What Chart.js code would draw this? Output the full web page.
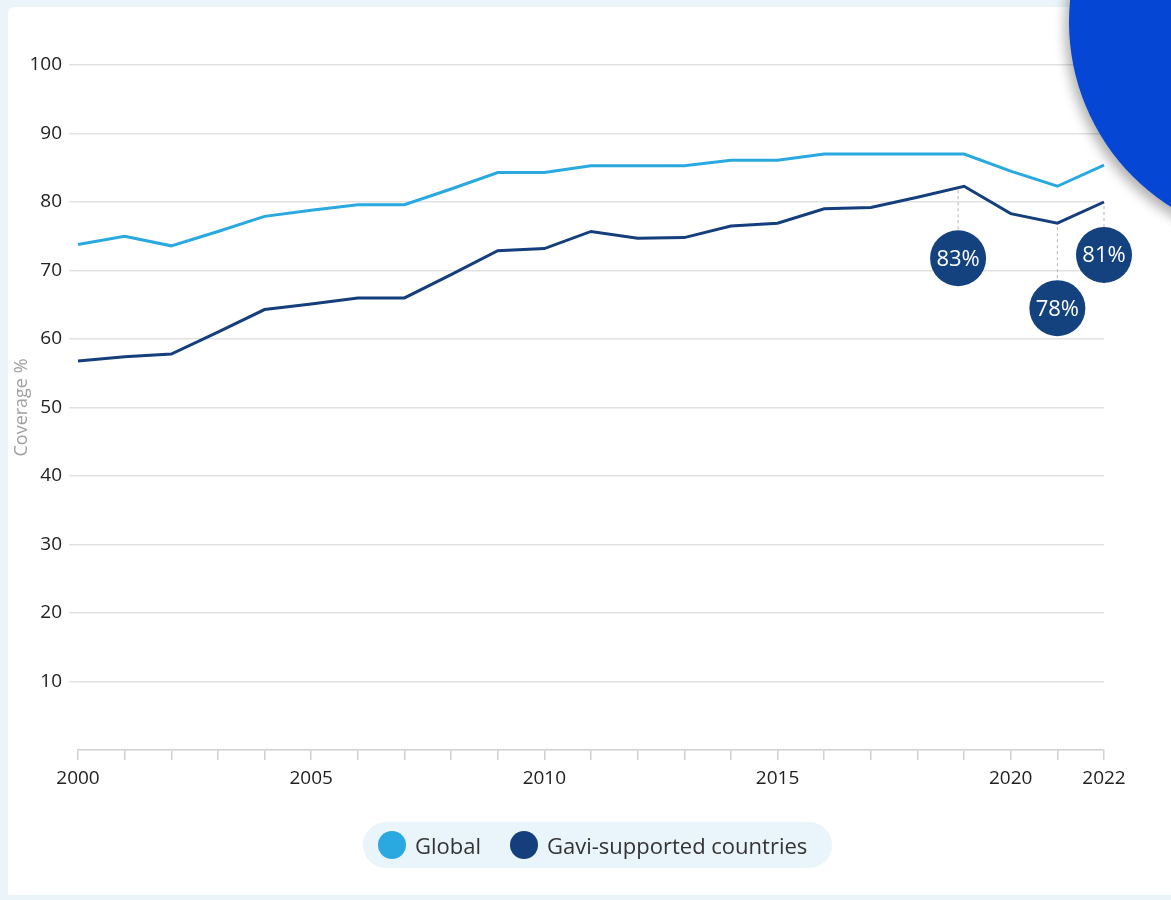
<!DOCTYPE html>
<html><head><meta charset="utf-8">
<script src="https://cdn.jsdelivr.net/npm/chart.js@4.4.0/dist/chart.umd.min.js"></script>
<style>
html,body{margin:0;padding:0;background:#eaf4f9;width:1171px;height:900px;overflow:hidden;font-family:"Open Sans",sans-serif;}
#card{position:absolute;left:8px;top:7px;width:1163px;height:888px;background:#fff;border-top-left-radius:6px;}
#wrap{position:absolute;left:0;top:0;width:1171px;height:900px;}
#blob{position:absolute;left:1069px;top:-197px;width:438px;height:438px;border-radius:50%;background:#0646d4;box-shadow:-4px 6px 12px rgba(0,0,0,0.3);}
#legend{position:absolute;left:363px;top:822px;width:469px;height:46px;border-radius:23px;background:#e9f5fb;}
.dot{position:absolute;top:9px;width:28px;height:28px;border-radius:50%;}
.lbl{position:absolute;top:0;line-height:46px;font-size:22px;color:#333;white-space:nowrap;}
</style>
</head><body>
<div id="card"></div>
<div id="wrap"><canvas id="c" width="1171" height="900"></canvas></div>
<div id="blob"></div>
<div id="legend"></div>
<script>
const years = ['2000','2001','2002','2003','2004','2005','2006','2007','2008','2009','2010','2011','2012','2013','2014','2015','2016','2017','2018','2019','2020','2021','2022'];
const globalCoverage = [73.8, 75.0, 73.6, 75.7, 77.9, 78.8, 79.6, 79.6, 81.9, 84.3, 84.3, 85.3, 85.3, 85.3, 86.1, 86.1, 87.0, 87.0, 87.0, 87.0, 84.5, 82.3, 85.4];
const gaviCoverage = [56.8, 57.4, 57.8, 61.0, 64.3, 65.1, 66.0, 66.0, 69.4, 72.9, 73.2, 75.7, 74.7, 74.8, 76.5, 76.9, 79.0, 79.2, 80.7, 82.3, 78.3, 76.9, 80.0];
const seriesNames = ['Global', 'Gavi-supported countries'];
const xTickLabels = ['2000','2005','2010','2015','2020','2022'];
const yTicks = [10,20,30,40,50,60,70,80,90,100];
const annotationYears = ['2019','2021','2022'];
const annotationLabels = ['83%','78%','81%'];

const colors = ['#2aa8e0', '#143f7c'];

const legend = document.getElementById('legend');
const legendDotLeft = [15, 147];
const legendTextLeft = [52, 184];
seriesNames.forEach((n,i)=>{
  const d = document.createElement('div'); d.className='dot'; d.style.background = colors[i]; d.style.left = legendDotLeft[i]+'px';
  const t = document.createElement('div'); t.className='lbl'; t.textContent = n; t.style.left = legendTextLeft[i]+'px';
  legend.appendChild(d); legend.appendChild(t);
});

const annotationPlugin = {
  id: 'bubbles',
  afterDatasetsDraw(chart, args, opts) {
    const ctx = chart.ctx;
    const meta = chart.getDatasetMeta(1);
    annotationYears.forEach((yr, i) => {
      const idx = years.indexOf(yr);
      const pt = meta.data[idx];
      const cx = pt.x + opts.dx[i];
      const cy = pt.y + opts.dy[i];
      const r = opts.radius;
      ctx.save();
      ctx.strokeStyle = '#b5b5b5';
      ctx.lineWidth = 1;
      ctx.setLineDash([3,3]);
      ctx.beginPath();
      ctx.moveTo(cx, pt.y + 4);
      ctx.lineTo(cx, cy - r);
      ctx.stroke();
      ctx.setLineDash([]);
      ctx.fillStyle = '#13427e';
      ctx.beginPath();
      ctx.arc(cx, cy, r, 0, Math.PI*2);
      ctx.fill();
      ctx.fillStyle = '#ffffff';
      ctx.font = '22px "Open Sans"';
      ctx.textAlign = 'center';
      ctx.textBaseline = 'middle';
      ctx.fillText(annotationLabels[i], cx, cy + 1);
      ctx.restore();
    });
  }
};

new Chart(document.getElementById('c'), {
  type: 'line',
  data: {
    labels: years,
    datasets: [
      {label: seriesNames[0], data: globalCoverage, borderColor: colors[0], backgroundColor: colors[0], borderWidth: 3, pointRadius: 0, tension: 0},
      {label: seriesNames[1], data: gaviCoverage, borderColor: colors[1], backgroundColor: colors[1], borderWidth: 3, pointRadius: 0, tension: 0}
    ]
  },
  options: {
    responsive: false,
    animation: false,
    layout: {padding: {left: 0, right: 67, top: 65, bottom: 100}},
    plugins: {
      legend: {display: false},
      tooltip: {enabled: false},
      bubbles: {dx: [-6, 0, 0], dy: [72, 85, 53], radius: 28}
    },
    scales: {
      x: {
        afterFit(s){ s.height = 50; },
        grid: {drawOnChartArea: false, drawTicks: true, tickLength: 10, color: '#d0d0d0', lineWidth: 1.5},
        border: {display: true, color: '#d0d0d0', width: 1.5},
        ticks: {
          autoSkip: false, maxRotation: 0, padding: 7,
          color: '#222', font: {family: '"Open Sans"', size: 19},
          callback(v, i){ const l = years[i]; return xTickLabels.includes(l) ? l : ''; }
        }
      },
      y: {
        min: 0, max: 100,
        afterFit(s){ s.width = 78; },
        afterBuildTicks(s){ s.ticks = [0].concat(yTicks).map(v=>({value:v})); },
        grid: {
          color: c => c.tick && c.tick.value === 0 ? 'rgba(0,0,0,0)' : '#e2e2e2',
          lineWidth: 1.5, tickLength: 9
        },
        border: {display: false},
        ticks: {
          padding: 7, color: '#222', font: {family: '"Open Sans"', size: 19},
          callback(v){ return v === 0 ? '' : String(v); }
        },
        title: {display: true, text: 'Coverage %', color: '#a0a0a0', font: {family: '"Open Sans"', size: 18}, padding: {top: 11, bottom: 0}}
      }
    }
  },
  plugins: [annotationPlugin]
});
</script>
</body></html>
